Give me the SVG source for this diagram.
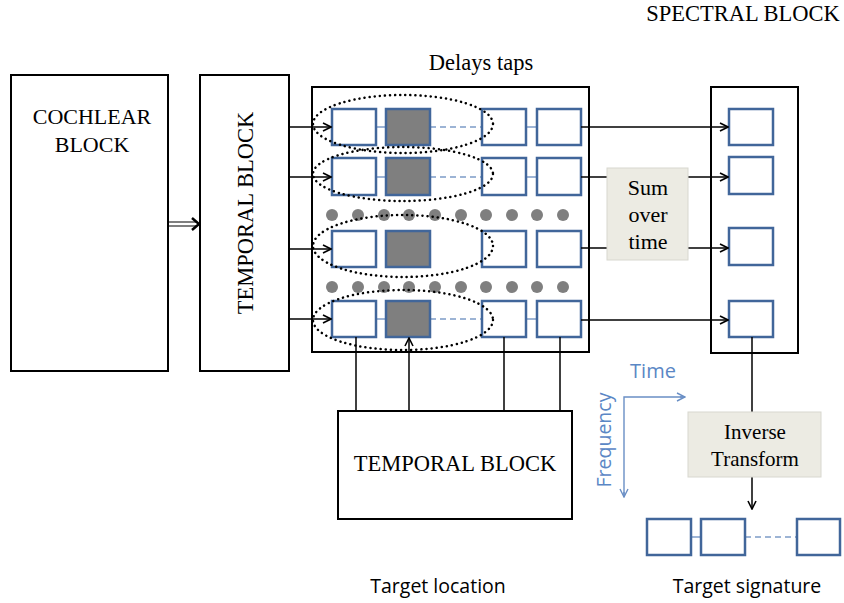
<svg xmlns="http://www.w3.org/2000/svg" width="844" height="603" viewBox="0 0 844 603">
<defs>
<marker id="ah" viewBox="0 0 10 10" refX="9" refY="5" markerWidth="10" markerHeight="10" markerUnits="userSpaceOnUse" orient="auto">
<path d="M1,1 L9,5 L1,9" fill="none" stroke="#000" stroke-width="1.6"/>
</marker>
<marker id="ahb" viewBox="0 0 10 10" refX="9" refY="5" markerWidth="10" markerHeight="10" markerUnits="userSpaceOnUse" orient="auto">
<path d="M1,1 L9,5 L1,9" fill="none" stroke="#6A8FC5" stroke-width="1.4"/>
</marker>
</defs>
<style>
.blk{fill:#fff;stroke:#000;stroke-width:2}
.sq{fill:#fff;stroke:#41669A;stroke-width:2.5}
.gsq{fill:#7F7F7F;stroke:#41669A;stroke-width:2.5}
.lk{stroke:#7E9CC8;stroke-width:1.5;fill:none}
.dlk{stroke:#7E9CC8;stroke-width:1.5;fill:none;stroke-dasharray:6,4}
.ell{fill:none;stroke:#000;stroke-width:2.5;stroke-dasharray:0.1,5;stroke-linecap:round}
.dot{fill:#7F7F7F}
.ln{stroke:#000;stroke-width:1.5;fill:none}
.ar{stroke:#000;stroke-width:1.5;fill:none;marker-end:url(#ah)}
.serif{font-family:"Liberation Serif","Times New Roman",serif;fill:#000}
.sans{font-family:"Open Sans","Liberation Sans",sans-serif}
.beige{fill:#ECEBE3;stroke:#D8D7CF;stroke-width:1}
</style>

<text class="serif" x="743" y="21" font-size="22.5" text-anchor="middle">SPECTRAL BLOCK</text>
<text class="serif" x="481" y="70" font-size="22.5" text-anchor="middle">Delays taps</text>

<g id="cochlear">
<rect class="blk" x="11" y="75" width="157" height="296"/>
<text class="serif" x="92" y="124" font-size="22" text-anchor="middle">COCHLEAR</text>
<text class="serif" x="92" y="152" font-size="22" text-anchor="middle">BLOCK</text>
</g>

<g id="temporal-left">
<rect class="blk" x="200" y="75" width="89" height="296"/>
<text class="serif" font-size="22.5" text-anchor="middle" transform="translate(253,213) rotate(-90)">TEMPORAL BLOCK</text>
</g>

<g id="delays">
<rect class="blk" x="312" y="87" width="277" height="265"/>
<g id="row1">
<line class="lk" x1="376" y1="127" x2="386" y2="127"/>
<line class="dlk" x1="430" y1="127" x2="482" y2="127"/>
<line class="lk" x1="526" y1="127" x2="537" y2="127"/>
<rect class="sq" x="332" y="109" width="44" height="36"/>
<rect class="gsq" x="386" y="109" width="44" height="36"/>
<rect class="sq" x="482" y="109" width="44" height="36"/>
<rect class="sq" x="537" y="109" width="44" height="36"/>
</g>
<g id="row2">
<line class="lk" x1="376" y1="177" x2="386" y2="177"/>
<line class="dlk" x1="430" y1="177" x2="482" y2="177"/>
<line class="lk" x1="526" y1="177" x2="537" y2="177"/>
<rect class="sq" x="332" y="158" width="44" height="37"/>
<rect class="gsq" x="386" y="158" width="44" height="37"/>
<rect class="sq" x="482" y="158" width="44" height="37"/>
<rect class="sq" x="537" y="158" width="44" height="37"/>
</g>
<g id="row3">
<rect class="sq" x="332" y="231" width="44" height="36"/>
<rect class="gsq" x="386" y="231" width="44" height="36"/>
<rect class="sq" x="482" y="231" width="44" height="36"/>
<rect class="sq" x="537" y="231" width="44" height="36"/>
</g>
<g id="row4">
<line class="lk" x1="376" y1="319" x2="386" y2="319"/>
<line class="dlk" x1="430" y1="319" x2="482" y2="319"/>
<line class="lk" x1="526" y1="319" x2="537" y2="319"/>
<rect class="sq" x="332" y="301" width="44" height="36"/>
<rect class="gsq" x="386" y="301" width="44" height="36"/>
<rect class="sq" x="482" y="301" width="44" height="36"/>
<rect class="sq" x="537" y="301" width="44" height="36"/>
</g>
<g id="dots">
<circle class="dot" cx="332" cy="215" r="6"/><circle class="dot" cx="358" cy="215" r="6"/><circle class="dot" cx="384" cy="215" r="6"/><circle class="dot" cx="409" cy="215" r="6"/><circle class="dot" cx="435" cy="215" r="6"/><circle class="dot" cx="461" cy="215" r="6"/><circle class="dot" cx="486" cy="215" r="6"/><circle class="dot" cx="512" cy="215" r="6"/><circle class="dot" cx="537" cy="215" r="6"/><circle class="dot" cx="563" cy="215" r="6"/>
<circle class="dot" cx="332" cy="287" r="6"/><circle class="dot" cx="358" cy="287" r="6"/><circle class="dot" cx="384" cy="287" r="6"/><circle class="dot" cx="409" cy="287" r="6"/><circle class="dot" cx="435" cy="287" r="6"/><circle class="dot" cx="461" cy="287" r="6"/><circle class="dot" cx="486" cy="287" r="6"/><circle class="dot" cx="512" cy="287" r="6"/><circle class="dot" cx="537" cy="287" r="6"/><circle class="dot" cx="563" cy="287" r="6"/>
</g>
<g id="ellipses">
<ellipse class="ell" cx="403" cy="124" rx="90" ry="29"/>
<ellipse class="ell" cx="403" cy="174" rx="90" ry="27"/>
<ellipse class="ell" cx="403" cy="246" rx="90" ry="31"/>
<ellipse class="ell" cx="403" cy="320" rx="90" ry="30"/>
</g>
</g>

<g id="spectral">
<rect class="blk" x="711" y="87" width="87" height="266"/>
<rect class="sq" x="729" y="109" width="44" height="36"/>
<rect class="sq" x="729" y="157" width="44" height="37"/>
<rect class="sq" x="729" y="228" width="44" height="37"/>
<rect class="sq" x="729" y="301" width="44" height="36"/>
</g>

<g id="temporal-bottom">
<rect class="blk" x="338" y="411" width="234" height="108"/>
<text class="serif" x="455" y="471" font-size="22.5" text-anchor="middle">TEMPORAL BLOCK</text>
</g>

<g id="connectors">
<path d="M168,222 H196 M168,226 H196" stroke="#000" stroke-width="1.2" fill="none"/>
<path d="M192,218 L199,224 L192,230" fill="none" stroke="#000" stroke-width="2.5"/>
<line class="ar" x1="289" y1="127" x2="331" y2="127"/>
<line class="ar" x1="289" y1="177" x2="331" y2="177"/>
<line class="ar" x1="289" y1="249" x2="331" y2="249"/>
<line class="ar" x1="289" y1="319" x2="331" y2="319"/>
<line class="ar" x1="581" y1="127" x2="728" y2="127"/>
<line class="ar" x1="581" y1="177" x2="728" y2="177"/>
<line class="ar" x1="581" y1="248" x2="728" y2="248"/>
<line class="ar" x1="581" y1="320" x2="728" y2="320"/>
<line class="ln" x1="356" y1="337" x2="356" y2="411"/>
<line class="ar" x1="409" y1="411" x2="409" y2="338"/>
<line class="ln" x1="504" y1="337" x2="504" y2="411"/>
<line class="ln" x1="560" y1="337" x2="560" y2="411"/>
<line class="ln" x1="752" y1="337" x2="752" y2="412"/>
<line class="ar" x1="752" y1="477" x2="752" y2="509"/>
<line class="lk" x1="691" y1="537" x2="701" y2="537"/>
<line class="dlk" x1="745" y1="537" x2="797" y2="537"/>
</g>

<g id="sum">
<rect class="beige" x="607" y="168" width="81" height="92"/>
<text class="serif" x="648" y="195" font-size="22" text-anchor="middle">Sum</text>
<text class="serif" x="648" y="222" font-size="22" text-anchor="middle">over</text>
<text class="serif" x="648" y="249" font-size="22" text-anchor="middle">time</text>
</g>

<g id="inverse">
<rect class="beige" x="688" y="412" width="133" height="65"/>
<text class="serif" x="755" y="439" font-size="21" text-anchor="middle">Inverse</text>
<text class="serif" x="755" y="466" font-size="21" text-anchor="middle">Transform</text>
</g>

<g id="axes">
<path d="M685,397 H624 V497" fill="none" stroke="#6A8FC5" stroke-width="1.4"/>
<line x1="680" y1="397" x2="685" y2="397" stroke="#6A8FC5" stroke-width="1.4" marker-end="url(#ahb)"/>
<line x1="624" y1="492" x2="624" y2="497" stroke="#6A8FC5" stroke-width="1.4" marker-end="url(#ahb)"/>
<text class="sans" x="653" y="378" font-size="20" fill="#5B87C5" text-anchor="middle">Time</text>
<text class="sans" font-size="19.5" fill="#5B87C5" text-anchor="middle" transform="translate(611,440) rotate(-90)">Frequency</text>
</g>

<g id="target-signature">
<rect class="sq" x="647" y="519" width="44" height="36"/>
<rect class="sq" x="701" y="519" width="44" height="36"/>
<rect class="sq" x="797" y="519" width="43" height="36"/>
</g>

<text class="sans" x="438" y="593" font-size="19.5" fill="#000" text-anchor="middle">Target location</text>
<text class="sans" x="747" y="593" font-size="19.5" fill="#000" text-anchor="middle">Target signature</text>
</svg>
